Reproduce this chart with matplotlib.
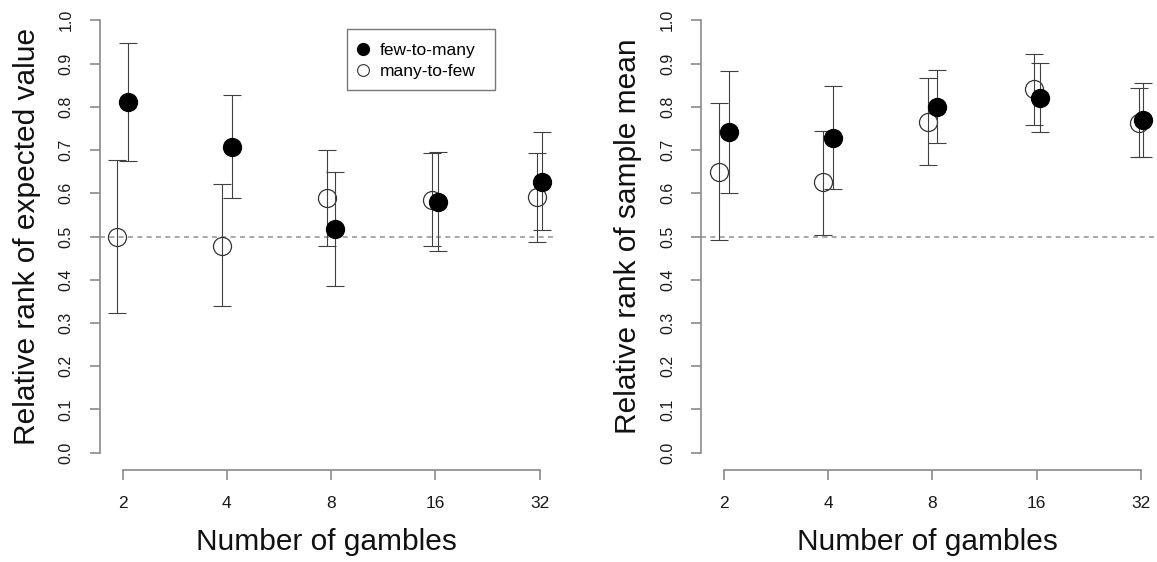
import numpy as np
import matplotlib
matplotlib.use('Agg')
import matplotlib.pyplot as plt
from matplotlib.lines import Line2D
from matplotlib.patches import Rectangle

plt.rcParams['font.family'] = ['Liberation Sans', 'DejaVu Sans']

# Datos
n_gambles = [2, 4, 8, 16, 32]
tick_labels = ['2', '4', '8', '16', '32']

# panel izquierdo: rango relativo del valor esperado
ftm_ev = [0.811, 0.707, 0.517, 0.580, 0.627]
ftm_ev_lo = [0.674, 0.588, 0.386, 0.466, 0.516]
ftm_ev_hi = [0.948, 0.827, 0.649, 0.696, 0.741]
mtf_ev = [0.500, 0.479, 0.589, 0.584, 0.591]
mtf_ev_lo = [0.324, 0.339, 0.479, 0.478, 0.488]
mtf_ev_hi = [0.676, 0.621, 0.699, 0.693, 0.694]

# panel derecho: rango relativo de la media muestral
ftm_sm = [0.741, 0.728, 0.800, 0.820, 0.770]
ftm_sm_lo = [0.601, 0.610, 0.717, 0.741, 0.684]
ftm_sm_hi = [0.882, 0.847, 0.885, 0.901, 0.855]
mtf_sm = [0.649, 0.625, 0.765, 0.840, 0.763]
mtf_sm_lo = [0.492, 0.503, 0.665, 0.757, 0.685]
mtf_sm_hi = [0.808, 0.745, 0.866, 0.921, 0.843]

labels = ['few-to-many', 'many-to-few']
ylabels = ['Relative rank of expected value', 'Relative rank of sample mean']

# desplazamiento horizontal de los puntos (unidades log2)
dodge = np.array([0.05, 0.05, 0.04, 0.03, 0.02])

axis_col = '#8a8a8a'
bar_col = '#404040'

fig = plt.figure(figsize=(11.57, 5.62), dpi=100)
W, H = 1157, 562
ax_w, ax_h = 453, 467
lefts = [100, 701.4]
bottom = (H - 470) / H

panels = [
    (ftm_ev, ftm_ev_lo, ftm_ev_hi, mtf_ev, mtf_ev_lo, mtf_ev_hi),
    (ftm_sm, ftm_sm_lo, ftm_sm_hi, mtf_sm, mtf_sm_lo, mtf_sm_hi),
]

x = np.log2(n_gambles)

for k, (f, flo, fhi, m, mlo, mhi) in enumerate(panels):
    ax = fig.add_axes([lefts[k] / W, bottom, ax_w / W, ax_h / H])
    f, flo, fhi = np.array(f), np.array(flo), np.array(fhi)
    m, mlo, mhi = np.array(m), np.array(mlo), np.array(mhi)

    ax.axhline(0.5, color='#9a9a9a', lw=1.2, ls=(0, (3, 2.6)), zorder=1)

    # many-to-few (circulo abierto)
    ax.errorbar(x - dodge, m, yerr=[m - mlo, mhi - m], fmt='none',
                ecolor=bar_col, elinewidth=0.8, capsize=6.5, capthick=0.8, zorder=2)
    ax.plot(x - dodge, m, 'o', ms=13, mfc='none', mec='#333333', mew=0.9, zorder=3)
    # few-to-many (circulo lleno)
    ax.errorbar(x + dodge, f, yerr=[f - flo, fhi - f], fmt='none',
                ecolor=bar_col, elinewidth=0.8, capsize=6.5, capthick=0.8, zorder=4)
    ax.plot(x + dodge, f, 'o', ms=13, mfc='black', mec='black', mew=0.9, zorder=5)

    ax.set_xlim(0.783, 5.129)
    ax.set_ylim(-0.04, 1.04)
    ax.set_xticks(x)
    ax.set_xticklabels(tick_labels)
    ax.set_yticks(np.arange(0, 1.01, 0.1))
    ax.set_yticklabels(['%.1f' % v for v in np.arange(0, 1.01, 0.1)])

    for s in ['top', 'right']:
        ax.spines[s].set_visible(False)
    ax.spines['left'].set_bounds(0, 1)
    ax.spines['bottom'].set_bounds(x[0], x[-1])
    for s in ['left', 'bottom']:
        ax.spines[s].set_color(axis_col)
        ax.spines[s].set_linewidth(1.2)

    ax.tick_params(axis='both', color=axis_col, width=1.2, length=7.5, labelcolor='#1a1a1a')
    ax.tick_params(axis='x', labelsize=12.5, pad=11)
    ax.tick_params(axis='y', labelsize=11.5, pad=11.5, labelrotation=90)
    for t in ax.get_yticklabels():
        t.set_va('center')

    ax.set_xlabel('Number of gambles', fontsize=21.5, color='#111111')
    ax.xaxis.set_label_coords(0.5, -0.171)
    ax.xaxis.label.set_va('baseline')
    ax.set_ylabel(ylabels[k], fontsize=21.5, color='#111111')
    ax.yaxis.set_label_coords(-65 / ax_w, 0.5)
    ax.yaxis.label.set_va('baseline')

    if k == 0:
        # marco de la leyenda (px de la figura -> coords del eje)
        bx0, bx1, by0, by1 = 346.7, 495, 29, 90
        ax.add_patch(Rectangle(((bx0 - 100) / ax_w, 1 - (by1 - 3) / ax_h),
                               (bx1 - bx0) / ax_w, (by1 - by0) / ax_h,
                               transform=ax.transAxes, fill=False,
                               edgecolor='#777777', lw=1.0, clip_on=False, zorder=6))
        handles = [Line2D([], [], ls='none', marker='o', ms=8.5, mfc='black', mec='black'),
                   Line2D([], [], ls='none', marker='o', ms=8.5, mfc='none', mec='#333333', mew=0.8)]
        fs = 12.5 * 100 / 72
        ax.legend(handles, labels, loc='center left',
                  bbox_to_anchor=((363.3 - 0.4 * fs - 100) / ax_w, 1 - (60.7 - 3) / ax_h),
                  borderaxespad=0, borderpad=0, fontsize=12.5, frameon=False,
                  handlelength=0.8, handletextpad=(380 - 363.3 - 0.4 * fs) / fs,
                  labelspacing=0.32)

plt.savefig('out.png', dpi=100)
